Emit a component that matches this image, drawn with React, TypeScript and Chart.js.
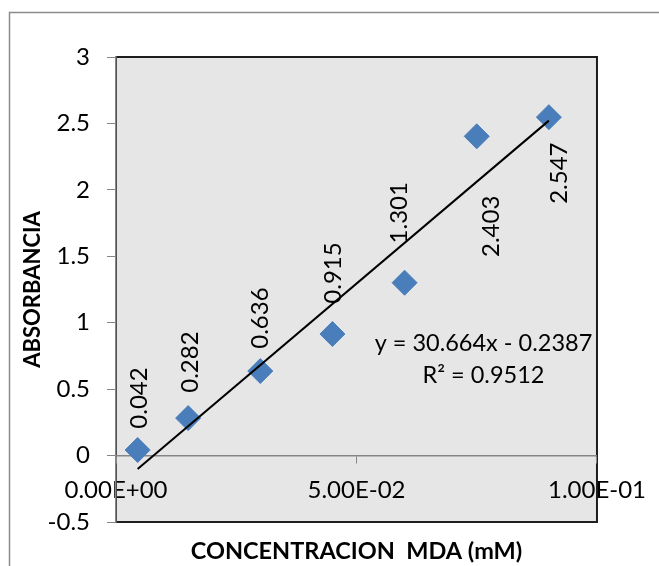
import React, { useEffect, useRef } from 'react';
import { Chart, registerables } from 'chart.js';

Chart.register(...registerables);

// ---- data ----
const concentrations = [0.0045, 0.015, 0.03, 0.045, 0.06, 0.075, 0.09];
const absorbances = [0.042, 0.282, 0.636, 0.915, 1.301, 2.403, 2.547];
const pointLabels = ['0.042', '0.282', '0.636', '0.915', '1.301', '2.403', '2.547'];
const xTickLabels = ['0.00E+00', '5.00E-02', '1.00E-01'];
const yTickLabels = ['-0.5', '0', '0.5', '1', '1.5', '2', '2.5', '3'];
const trendSlope = 30.664;
const trendIntercept = -0.2387;
const equationLines = ['y = 30.664x - 0.2387', 'R\u00B2 = 0.9512'];
const xTitle = 'CONCENTRACION  MDA (mM)';
const yTitle = 'ABSORBANCIA';

const FONT = 'Lato, "Liberation Sans", Arial, sans-serif';

export default function App() {
  const ref = useRef<HTMLCanvasElement | null>(null);

  useEffect(() => {
    const canvas = ref.current;
    if (!canvas) return;

    const scatterPoints = concentrations.map((x, i) => ({ x, y: absorbances[i] }));
    const xStart = concentrations[0];
    const xEnd = concentrations[concentrations.length - 1];
    const trendPoints = [
      { x: xStart, y: trendSlope * xStart + trendIntercept },
      { x: xEnd, y: trendSlope * xEnd + trendIntercept },
    ];

    // label offsets (px) relative to each marker, Excel-like manual placement
    const labelOffsets = [
      [2, -52], [2, -56], [0, -53], [1, -61], [-5, -70], [15, 90], [10, 56],
    ];

    const decor = {
      id: 'decor',
      beforeDraw(chart: any) {
        const { ctx, chartArea: a } = chart;
        ctx.save();
        ctx.fillStyle = '#ffffff';
        ctx.fillRect(0, 0, chart.width, chart.height);
        // outer frame
        ctx.strokeStyle = '#8c8c8c';
        ctx.lineWidth = 1.5;
        ctx.beginPath();
        ctx.moveTo(9.5, chart.height + 10);
        ctx.lineTo(9.5, 12.5);
        ctx.lineTo(chart.width + 10, 12.5);
        ctx.stroke();
        // plot background
        ctx.fillStyle = '#e6e6e6';
        ctx.fillRect(a.left, a.top, a.right - a.left, a.bottom - a.top);
        // plot border
        ctx.strokeStyle = '#1e1e1e';
        ctx.lineWidth = 2;
        ctx.strokeRect(a.left, a.top, a.right - a.left, a.bottom - a.top);
        ctx.restore();
      },
      afterDatasetsDraw(chart: any) {
        const { ctx, chartArea: a } = chart;
        const meta = chart.getDatasetMeta(1);
        ctx.save();
        ctx.fillStyle = '#000000';
        ctx.font = `24px ${FONT}`;
        ctx.textAlign = 'center';
        ctx.textBaseline = 'middle';
        meta.data.forEach((pt: any, i: number) => {
          const [dx, dy] = labelOffsets[i];
          ctx.save();
          ctx.translate(pt.x + dx, pt.y + dy);
          ctx.rotate(-Math.PI / 2);
          ctx.fillText(pointLabels[i], 0, 0);
          ctx.restore();
        });
        // trendline equation
        ctx.font = `23.5px ${FONT}`;
        const ex = a.left + (a.right - a.left) * 0.764;
        const ey = a.top + (a.bottom - a.top) * 0.615;
        ctx.fillText(equationLines[0], ex, ey);
        ctx.fillText(equationLines[1], ex, ey + 32);
        // axis titles
        ctx.font = `bold 23.5px ${FONT}`;
        ctx.fillText(xTitle, (a.left + a.right) / 2, 551);
        ctx.save();
        ctx.translate(33, (a.top + a.bottom) / 2);
        ctx.rotate(-Math.PI / 2);
        ctx.font = `bold 22px ${FONT}`;
        ctx.fillText(yTitle, 0, 0);
        ctx.restore();
        ctx.restore();
      },
    };

    const chart = new Chart(canvas, {
      type: 'scatter',
      data: {
        datasets: [
          {
            type: 'line',
            label: 'Trend',
            data: trendPoints,
            borderColor: '#000000',
            borderWidth: 2,
            pointRadius: 0,
            fill: false,
            order: 0,
          } as any,
          {
            label: 'Absorbancia',
            data: scatterPoints,
            pointStyle: 'rectRot',
            pointRadius: 12.5,
            pointHoverRadius: 12.5,
            backgroundColor: '#4a7ebb',
            borderColor: '#4a7ebb',
            borderWidth: 1,
            order: 1,
          },
        ],
      },
      options: {
        responsive: false,
        animation: false,
        events: [],
        layout: { padding: { left: 0, top: 57, right: 57, bottom: 44 } },
        plugins: {
          legend: { display: false },
          tooltip: { enabled: false },
          title: { display: false },
        },
        scales: {
          x: {
            type: 'linear',
            position: { y: 0 } as any,
            min: 0,
            max: 0.1,
            grid: {
              display: true,
              drawOnChartArea: false,
              drawTicks: true,
              tickLength: 7,
              color: '#868686',
            },
            border: { display: true, color: '#868686', width: 1.5 },
            ticks: {
              stepSize: 0.05,
              autoSkip: false,
              maxRotation: 0,
              padding: 13,
              color: '#000000',
              font: { family: FONT, size: 24 },
              callback: (_v: any, i: number) => xTickLabels[i],
            },
          },
          y: {
            type: 'linear',
            position: 'left',
            min: -0.5,
            max: 3,
            afterFit: (scale: any) => {
              scale.width = 116;
            },
            grid: {
              display: true,
              drawOnChartArea: false,
              drawTicks: true,
              tickLength: 9,
              color: '#868686',
            },
            border: { display: true, color: '#868686', width: 1.5 },
            ticks: {
              stepSize: 0.5,
              padding: 17,
              color: '#000000',
              font: { family: FONT, size: 24 },
              callback: (_v: any, i: number) => yTickLabels[i],
            },
          },
        },
      },
      plugins: [decor],
    });

    return () => chart.destroy();
  }, []);

  return (
    <div style={{ position: 'absolute', left: 0, top: 0, width: 659, height: 566, background: '#fff' }}>
      <canvas ref={ref} width={659} height={566} style={{ display: 'block' }} />
    </div>
  );
}
